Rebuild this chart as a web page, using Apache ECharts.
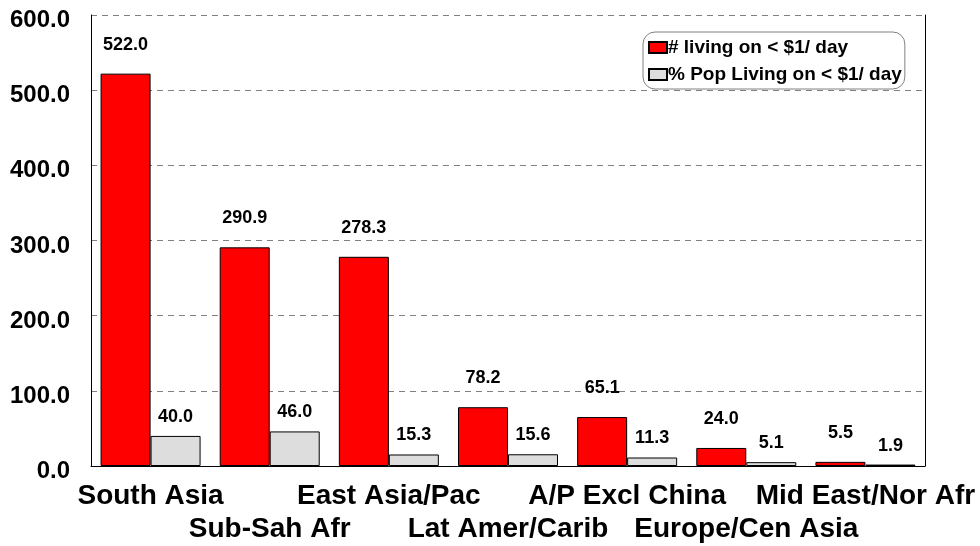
<!DOCTYPE html>
<html>
<head>
<meta charset="utf-8">
<script src="https://cdn.jsdelivr.net/npm/echarts@6/dist/echarts.min.js"></script>
<style>
html,body{margin:0;padding:0;background:#fff;}
#c{width:980px;height:546px;}
</style>
</head>
<body>
<div id="c"></div>
<script>
const categories = ['South Asia', 'Sub-Sah Afr', 'East Asia/Pac', 'Lat Amer/Carib', 'A/P Excl China', 'Europe/Cen Asia', 'Mid East/Nor Afr'];
const seriesNames = ['# living on < $1/ day', '% Pop Living on < $1/ day'];
const livingCount = [522.0, 290.9, 278.3, 78.2, 65.1, 24.0, 5.5];
const popPercent = [40.0, 46.0, 15.3, 15.6, 11.3, 5.1, 1.9];
const yMin = 0, yMax = 600, yStep = 100;

const FONT = '"Liberation Sans", Arial, sans-serif';
const chart = echarts.init(document.getElementById('c'), null, {renderer: 'canvas'});
chart.setOption({
  animation: false,
  backgroundColor: '#ffffff',
  grid: {left: 91, right: 55, top: 15, bottom: 80, containLabel: false},
  legend: {
    orient: 'vertical',
    left: 643, top: 32,
    padding: [6, 3, 5, 5],
    itemGap: 8,
    itemWidth: 18, itemHeight: 11,
    borderColor: '#808080', borderWidth: 1, borderRadius: 12,
    icon: 'rect',
    textStyle: {fontFamily: FONT, fontWeight: 'bold', fontSize: 19, color: '#000', lineHeight: 18, padding: [0, 0, 0, -4]},
    data: seriesNames
  },
  xAxis: {
    type: 'category',
    data: categories,
    axisLine: {show: true, lineStyle: {color: '#000', width: 1}},
    axisTick: {show: false},
    axisLabel: {
      interval: 0,
      margin: 14,
      fontFamily: FONT, fontWeight: 'bold', fontSize: 28, color: '#000', lineHeight: 33,
      formatter: function (v, i) { return i % 2 === 1 ? '\n' + v : v; }
    }
  },
  yAxis: [{
    type: 'value',
    min: yMin, max: yMax, interval: yStep,
    axisLine: {show: true, lineStyle: {color: '#000', width: 1}},
    axisTick: {show: false},
    splitLine: {show: true, lineStyle: {color: '#808080', type: [6, 5], width: 1}},
    axisLabel: {
      margin: 21,
      fontFamily: FONT, fontWeight: 'bold', fontSize: 24, color: '#000',
      formatter: function (v) { return '{v|' + v.toFixed(1) + '}'; },
      rich: {v: {fontFamily: FONT, fontWeight: 'bold', fontSize: 24, color: '#000', padding: [11, 0, 0, 0]}}
    }
  }, {
    type: 'value',
    position: 'right',
    min: yMin, max: yMax, interval: yStep,
    axisLine: {show: true, lineStyle: {color: '#000', width: 1}},
    axisTick: {show: false},
    axisLabel: {show: false},
    splitLine: {show: false}
  }],
  series: [{
    name: seriesNames[0],
    type: 'bar',
    data: livingCount,
    barWidth: 50,
    barGap: '0%',
    itemStyle: {color: '#ff0000', borderColor: '#000', borderWidth: 1},
    label: {show: true, position: 'top', distance: 20, fontFamily: FONT, fontWeight: 'bold', fontSize: 18, color: '#000',
      formatter: function (p) { return p.value.toFixed(1); }}
  }, {
    name: seriesNames[1],
    type: 'bar',
    data: popPercent,
    barWidth: 50,
    itemStyle: {color: '#dddddd', borderColor: '#000', borderWidth: 1},
    label: {show: true, position: 'top', distance: 10, fontFamily: FONT, fontWeight: 'bold', fontSize: 18, color: '#000',
      formatter: function (p) { return p.value.toFixed(1); }}
  }]
});
</script>
</body>
</html>
